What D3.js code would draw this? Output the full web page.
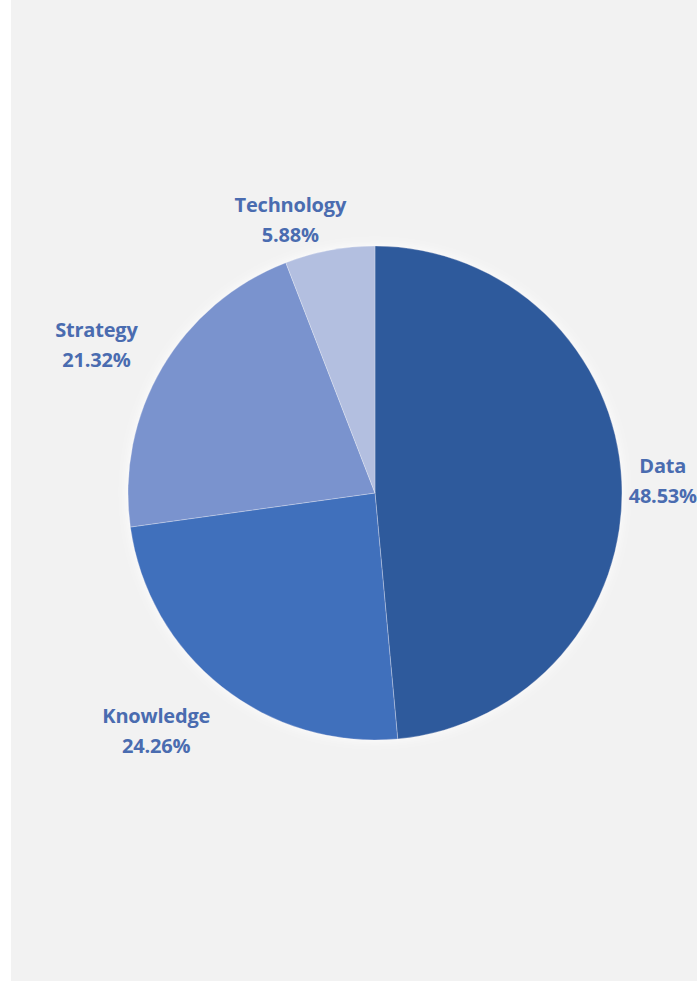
<!DOCTYPE html>
<html><head><meta charset="utf-8">
<script src="https://cdn.jsdelivr.net/npm/d3@7/dist/d3.min.js"></script>
<style>html,body{margin:0;padding:0;background:#fff;}svg{display:block;}</style>
</head><body>
<script>
const categories = ["Data", "Knowledge", "Strategy", "Technology"];
const values = [48.53, 24.26, 21.32, 5.88];
const labels = ["48.53%", "24.26%", "21.32%", "5.88%"];
const colors = ["#2f5a9c", "#416fbc", "#7a93ce", "#b3bfe0"];

const W = 697, H = 981;
const cx = 375, cy = 493, R = 247;
const svg = d3.select("body").append("svg").attr("width", W).attr("height", H);

svg.append("rect").attr("x", 11).attr("y", 0).attr("width", W - 11).attr("height", H).attr("fill", "#f2f2f2");

const defs = svg.append("defs");
const f = defs.append("filter").attr("id", "glow").attr("x", "-20%").attr("y", "-20%").attr("width", "140%").attr("height", "140%");
f.append("feGaussianBlur").attr("in", "SourceAlpha").attr("stdDeviation", 6).attr("result", "b");
f.append("feFlood").attr("flood-color", "#ffffff").attr("flood-opacity", 0.9);
f.append("feComposite").attr("in2", "b").attr("operator", "in").attr("result", "g");
const m = f.append("feMerge");
m.append("feMergeNode").attr("in", "g");
m.append("feMergeNode").attr("in", "SourceGraphic");

const pie = d3.pie().sort(null).value(d => d.v);
const data = categories.map((c, i) => ({c, v: values[i], l: labels[i], col: colors[i]}));
const arcs = pie(data);
const arc = d3.arc().innerRadius(0).outerRadius(R);

const g = svg.append("g").attr("transform", `translate(${cx},${cy})`).attr("filter", "url(#glow)");
g.selectAll("path").data(arcs).enter().append("path")
  .attr("d", arc).attr("fill", d => d.data.col)
  .attr("stroke", "rgba(255,255,255,0.25)").attr("stroke-width", 1);

const fontSize = 20, lineH = 30;
const lg = svg.append("g");
arcs.forEach(a => {
  const mid = (a.startAngle + a.endAngle) / 2;
  const s = Math.sin(mid), c = -Math.cos(mid);
  const t = lg.append("text").attr("font-family", "'Open Sans', Lato, sans-serif")
    .attr("font-weight", "bold").attr("font-size", fontSize).attr("fill", "#4a6cb0")
    .attr("text-anchor", "middle").attr("letter-spacing", -0.2);
  t.append("tspan").attr("x", 0).attr("dy", 0).text(a.data.c);
  t.append("tspan").attr("x", 0).attr("dy", lineH).text(a.data.l);
  const bb = t.node().getBBox();
  const w = bb.width, h = bb.height;
  const gapX = 30, gapY = 20 * Math.sqrt(Math.abs(s));
  let px = cx + s * (R + gapX) + Math.sign(s) * Math.pow(Math.abs(s), 0.3) * w / 2;
  let py = cy + c * (R + gapY) + Math.sign(c) * Math.sqrt(Math.abs(c)) * h / 2 + 6;
  px = Math.min(px, W - w / 2);
  px = Math.max(px, 11 + w / 2);
  t.attr("transform", `translate(${px},${py - (bb.y + h / 2)})`);
});
</script>
</body></html>
